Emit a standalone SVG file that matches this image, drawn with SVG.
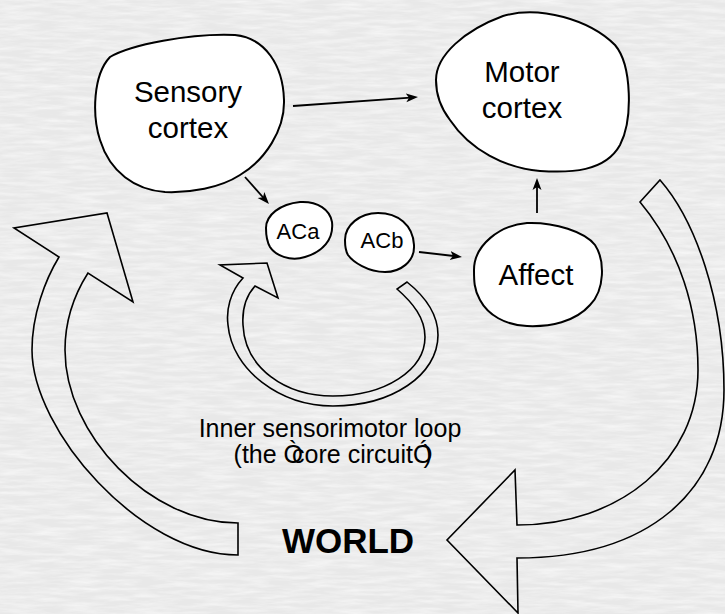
<svg xmlns="http://www.w3.org/2000/svg" width="725" height="614" viewBox="0 0 725 614">
  <style>
    .blob { fill: #ffffff; stroke: #000000; stroke-width: 2; }
    .band { fill: none; stroke: #000000; stroke-width: 1.6; stroke-linejoin: miter; }
    .edge { fill: none; stroke: #000000; stroke-width: 1.8; marker-end: url(#arrow); }
    .lbl { font-family: "Liberation Sans", Arial, Helvetica, sans-serif; fill: #000000; text-anchor: middle; }
    .big { font-size: 29.5px; }
    .small { font-size: 22px; }
    .note { font-size: 25px; }
    .world { font-size: 35px; font-weight: bold; }
  </style>
  <defs>
    <marker id="arrow" markerUnits="userSpaceOnUse" markerWidth="14" markerHeight="12" viewBox="0 -6 14 12" refX="8" refY="0" orient="auto">
      <path d="M0,-4.5 L12,0 L0,4.5 L3,0 Z" fill="#000000"/>
    </marker>
    <!-- light paper grain for the backdrop -->
    <filter id="paper" x="0" y="0" width="725" height="614" filterUnits="userSpaceOnUse">
      <feTurbulence type="fractalNoise" baseFrequency="0.03 0.25" numOctaves="4" seed="7" result="n"/>
      <feColorMatrix in="n" type="matrix" values="0 0 0 0 1  0 0 0 0 1  0 0 0 0 1  1.1 0 0 0 -0.38"/>
    </filter>
  </defs>

  <!-- backdrop -->
  <rect x="0" y="0" width="725" height="614" fill="#e8e8e8"/>
  <rect x="0" y="0" width="725" height="614" fill="#ffffff" filter="url(#paper)"/>

  <!-- outer and inner loop arrows -->
  <g id="loops">
    <path id="loop-left" class="band" d="M59,257 C45,280 32,315 32,350 C32,430 140,555 238,555 L238,523 C150,523 65,435 65,350 C65,320 74,295 88,273 L133,302 L107,213 L14,228 Z"/>
    <path id="loop-right" class="band" d="M660,180 C695,220 724,300 724,390 C724,490 650,558 517,558 L518,613 L447,540 L515,470 L517,525 C620,525 698,460 698,370 C698,310 680,250 640,202 Z"/>
    <path id="loop-inner" class="band" d="M243,278 C230,292 226,310 228,325 C232,370 280,406 333,406 C392,406 438,375 438,335 C438,315 427,298 407,282 L397,289 C413,303 425,318 425,337 C425,370 385,396 333,396 C285,396 245,368 243,325 C242,310 246,296 255,286 L278,298 L267,263 L220,265 Z"/>
  </g>

  <!-- connectors -->
  <g id="connectors">
    <line class="edge" x1="293" y1="106" x2="414" y2="97.3"/>
    <line class="edge" x1="245" y1="177" x2="266.3" y2="201"/>
    <line class="edge" x1="419" y1="252" x2="458" y2="256.5"/>
    <line class="edge" x1="537" y1="213" x2="537" y2="182"/>
  </g>

  <g id="node-sensory">
    <path class="blob" d="M110,57 C130,45 190,33 235,35 C265,38 283,65 284,100 C285,130 265,160 240,175 C220,188 190,193 165,192 C135,190 110,172 100,140 C92,115 93,75 110,57 Z"/>
    <text class="lbl big" x="188" y="102">Sensory</text>
    <text class="lbl big" x="188" y="138">cortex</text>
  </g>

  <g id="node-motor">
    <path class="blob" d="M436,80 C436,55 465,30 503,16 C540,5 590,20 615,45 C632,65 633,120 620,145 C605,172 570,173 540,171 C505,168 470,150 450,120 C440,107 436,95 436,80 Z"/>
    <text class="lbl big" x="522" y="82">Motor</text>
    <text class="lbl big" x="522" y="118">cortex</text>
  </g>

  <g id="node-aca">
    <path class="blob" d="M266,228 C266,215 280,204 300,202 C318,201 330,210 332,222 C334,240 322,252 305,257 C290,262 275,255 270,247 C266,240 266,234 266,228 Z"/>
    <text class="lbl small" x="298" y="239">ACa</text>
  </g>

  <g id="node-acb">
    <path class="blob" d="M345,240 C345,225 360,213 378,213 C398,213 413,225 414,245 C415,262 400,272 385,272 C368,272 353,262 348,255 C345,250 345,245 345,240 Z"/>
    <text class="lbl small" x="382" y="248">ACb</text>
  </g>

  <g id="node-affect">
    <path class="blob" d="M474,270 C474,245 500,225 527,223 C555,222 585,232 595,245 C605,260 605,290 590,305 C575,322 550,327 527,326 C505,325 488,315 480,300 C474,290 474,280 474,270 Z"/>
    <text class="lbl big" x="536" y="285">Affect</text>
  </g>

  <g id="labels">
    <text class="lbl note" x="330" y="437">Inner sensorimotor loop</text>
    <text class="lbl note" x="333" y="463">(the Ò<tspan dx="-11">core circuitÓ</tspan><tspan dx="-9">)</tspan></text>
    <text class="lbl world" x="348" y="553">WORLD</text>
  </g>
</svg>
